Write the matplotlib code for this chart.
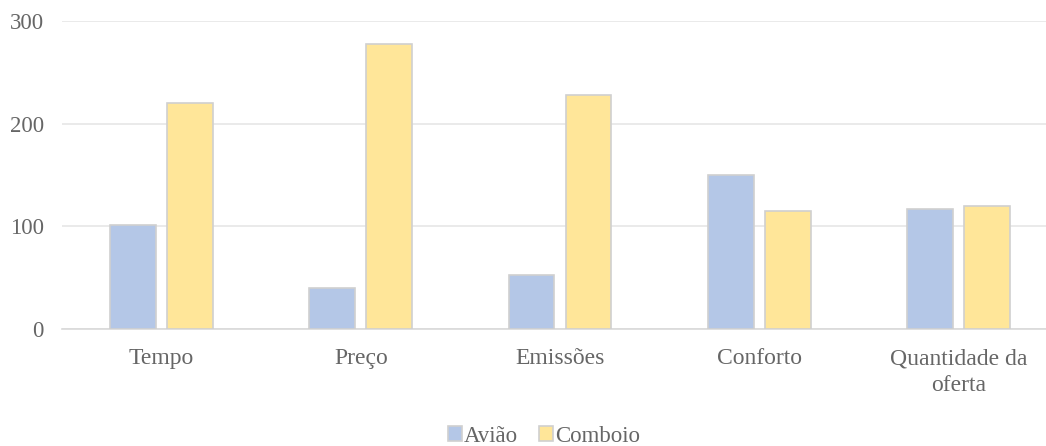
import matplotlib.pyplot as plt
import numpy as np

# data
categories = ["Tempo", "Preço", "Emissões", "Conforto", "Quantidade da\noferta"]
aviao = [101, 40, 53, 150, 117]
comboio = [220, 278, 228, 115, 120]
series_names = ["Avião", "Comboio"]

plt.rcParams["font.family"] = ["Liberation Serif", "DejaVu Serif"]
text_color = "#666666"
fs = 16.5

fig = plt.figure(figsize=(10.46, 4.46), dpi=100)
# the plot area runs a little past the right edge of the figure, as in the reference
ax = fig.add_axes([62 / 1046, 1 - 329 / 446, 996 / 1046, (329 - 21) / 446])

x = np.arange(len(categories))
width = 0.23
offset = 0.143
ax.bar(x - offset, aviao, width, color="#B4C7E7", edgecolor="#D0D0D0", linewidth=1.2,
       label=series_names[0], zorder=3)
ax.bar(x + offset, comboio, width, color="#FFE699", edgecolor="#D0D0D0", linewidth=1.2,
       label=series_names[1], zorder=3)

ax.set_xlim(-0.5, len(categories) - 0.5)
ax.set_ylim(0, 300)
ax.set_yticks([0, 100, 200, 300])
ax.yaxis.grid(True, color="#E6E6E6", linewidth=1.2, zorder=0)
ax.set_xticks(x)
ax.set_xticklabels(categories, fontsize=17, color=text_color, linespacing=1.35)
ax.tick_params(axis="y", labelsize=fs, labelcolor=text_color, length=0, pad=13)
ax.tick_params(axis="x", length=0, pad=14)
for side in ["top", "right", "left"]:
    ax.spines[side].set_visible(False)
ax.spines["bottom"].set_color("#D9D9D9")
ax.spines["bottom"].set_linewidth(1.2)

leg = fig.legend(loc="center", bbox_to_anchor=(544 / 1046, 1 - 436 / 446), ncol=2,
                 frameon=False, fontsize=fs, handlelength=0.6, handleheight=0.6,
                 handletextpad=0.1, columnspacing=0.9)
for t in leg.get_texts():
    t.set_color(text_color)

fig.savefig("out.png", dpi=100)
